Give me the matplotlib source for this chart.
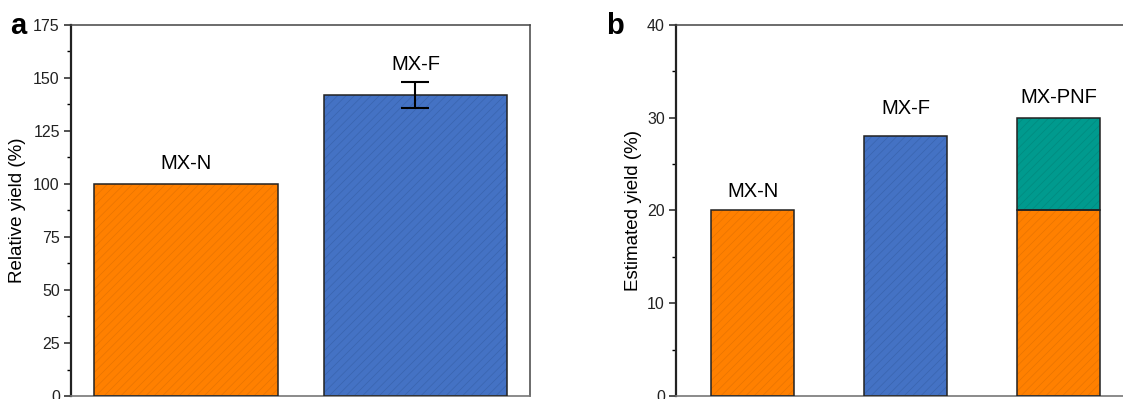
import matplotlib

matplotlib.use("Agg")
import matplotlib.pyplot as plt
from matplotlib.ticker import MultipleLocator

plt.rcParams["font.family"] = ["Liberation Sans", "DejaVu Sans"]
plt.rcParams["hatch.linewidth"] = 0.5

# --- panel a: relative yield ---
rel_names = ["MX-N", "MX-F"]
rel_values = [100, 142]
rel_errors = [0, 6]

# --- panel b: estimated yield (MX-PNF stacked) ---
est_names = ["MX-N", "MX-F", "MX-PNF"]
est_base = [20, 28, 20]
est_top = [0, 0, 10]

ORANGE = ("#FF8000", "#E87400")
BLUE = ("#4472C4", "#3A64AE")
TEAL = ("#009A8E", "#008A7F")


def hatched_bar(ax, x, h, width, colors, bottom=0):
    face, line = colors
    ax.bar(x, h, width, bottom=bottom, color=face, edgecolor=line,
           hatch="////", linewidth=0, zorder=2)
    ax.bar(x, h, width, bottom=bottom, fill=False, edgecolor="#222222",
           linewidth=1.1, zorder=3)


def style_axes(ax, ymax, major, minor):
    ax.set_ylim(0, ymax)
    ax.yaxis.set_major_locator(MultipleLocator(major))
    ax.yaxis.set_minor_locator(MultipleLocator(minor))
    ax.set_xticks([])
    ax.tick_params(axis="y", which="major", direction="out", length=5,
                   width=1.1, labelsize=11.5, colors="#222222", pad=3)
    ax.tick_params(axis="y", which="minor", direction="out", length=3, width=1.0)
    ax.spines["left"].set_linewidth(1.6)
    ax.spines["left"].set_color("#222222")
    for s in ("top", "right"):
        ax.spines[s].set_linewidth(1.1)
        ax.spines[s].set_color("#444444")
    ax.spines["bottom"].set_linewidth(1.2)
    ax.spines["bottom"].set_color("#777777")


def label(ax, text, x, y, dy):
    ax.annotate(text, (x, y), xytext=(0, dy), textcoords="offset points",
                ha="center", va="bottom", fontsize=14.5)


fig = plt.figure(figsize=(11.23, 3.99), dpi=100)

# panel a
ax1 = fig.add_axes([0.0632, 0.0075, 0.409, 0.93])
xa = [1, 2]
hatched_bar(ax1, xa[0], rel_values[0], 0.8, ORANGE)
hatched_bar(ax1, xa[1], rel_values[1], 0.8, BLUE)
ax1.errorbar(xa[1], rel_values[1], yerr=rel_errors[1], fmt="none",
             ecolor="black", elinewidth=1.5, capsize=10, capthick=1.5, zorder=4)
ax1.set_xlim(0.5, 2.5)
style_axes(ax1, 175, 25, 12.5)
ax1.set_ylabel("Relative yield (%)", fontsize=13.5, labelpad=5)
label(ax1, rel_names[0], xa[0], rel_values[0] + rel_errors[0], 8)
label(ax1, rel_names[1], xa[1], rel_values[1] + rel_errors[1], 6)

# panel b
ax2 = fig.add_axes([0.602, 0.0075, 0.409, 0.93])
xb = [1, 2, 3]
hatched_bar(ax2, xb[0], est_base[0], 0.54, ORANGE)
hatched_bar(ax2, xb[1], est_base[1], 0.54, BLUE)
hatched_bar(ax2, xb[2], est_base[2], 0.54, ORANGE)
hatched_bar(ax2, xb[2], est_top[2], 0.54, TEAL, bottom=est_base[2])
ax2.set_xlim(0.5, 3.5)
style_axes(ax2, 40, 10, 5)
ax2.set_ylabel("Estimated yield (%)", fontsize=13.5, labelpad=4)
totals = [b + t for b, t in zip(est_base, est_top)]
label(ax2, est_names[0], xb[0], totals[0], 7)
label(ax2, est_names[1], xb[1], totals[1], 13)
label(ax2, est_names[2], xb[2], totals[2], 8)

fig.text(0.009, 0.935, "a", fontsize=21, fontweight="bold", va="center")
fig.text(0.540, 0.935, "b", fontsize=21, fontweight="bold", va="center")

fig.savefig("out.png", dpi=100)
